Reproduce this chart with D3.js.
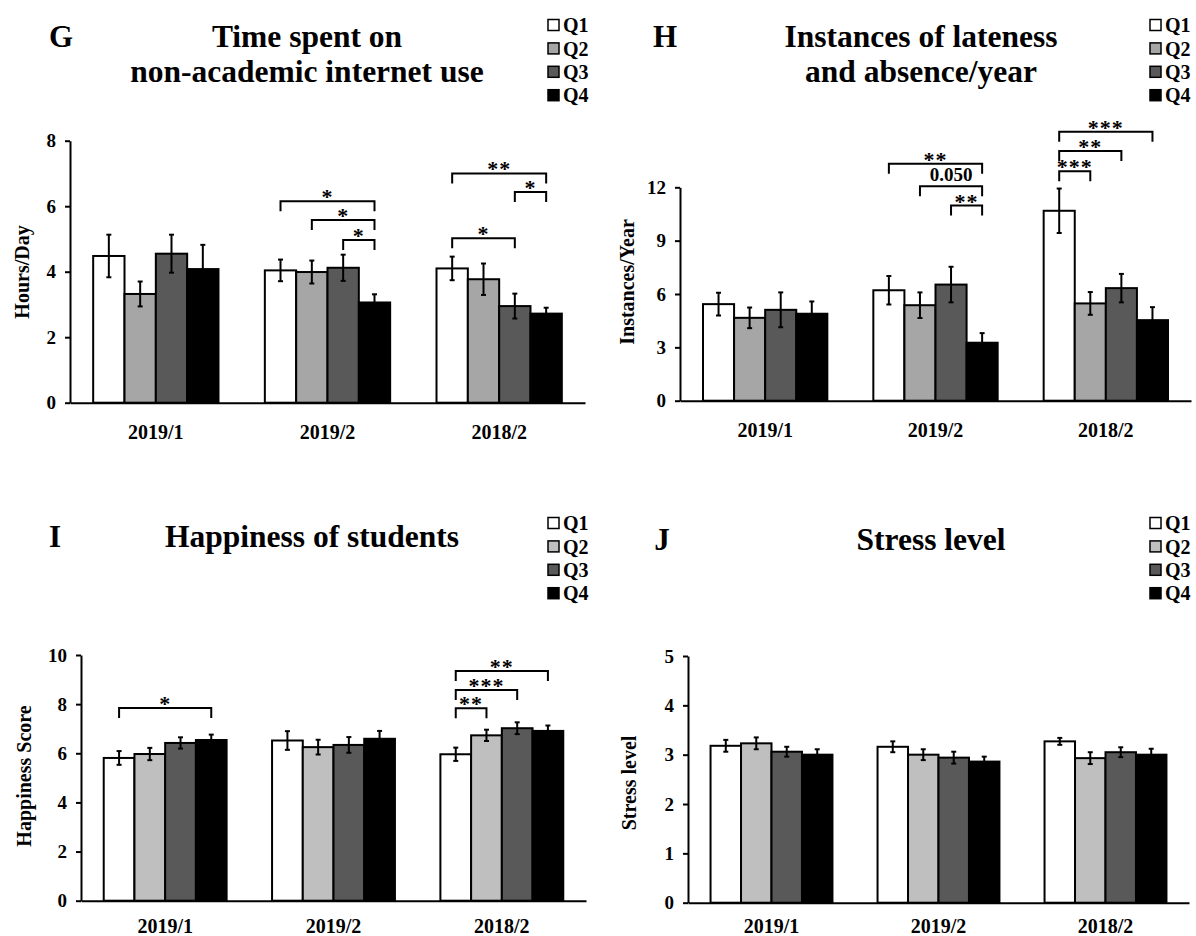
<!DOCTYPE html>
<html>
<head>
<meta charset="utf-8">
<script src="https://cdn.jsdelivr.net/npm/d3@7"></script>
<style>
  html, body { margin: 0; padding: 0; background: #fff; }
  svg { display: block; font-family: "Liberation Serif", "Times New Roman", serif; font-weight: bold; }
</style>
</head>
<body>
<script>
// ---- data -------------------------------------------------------------
const categories = ["2019/1", "2019/2", "2018/2"];
const quartiles = ["Q1", "Q2", "Q3", "Q4"];

// G: non-academic internet use (hours/day), mean and SE per cohort x quartile
const internetHours = [[4.48, 3.32, 4.55, 4.08], [4.04, 3.99, 4.12, 3.06], [4.10, 3.77, 2.95, 2.72]];
const internetErr   = [[0.65, 0.38, 0.58, 0.74], [0.33, 0.35, 0.40, 0.25], [0.36, 0.48, 0.38, 0.18]];
const internetSig = [
  { cat: "2019/2", from: "Q1", to: "Q4", y: 6.15, label: "*" },
  { cat: "2019/2", from: "Q2", to: "Q4", y: 5.58, label: "*" },
  { cat: "2019/2", from: "Q3", to: "Q4", y: 4.97, label: "*" },
  { cat: "2018/2", from: "Q1", to: "Q4", y: 7.00, label: "**" },
  { cat: "2018/2", from: "Q3", to: "Q4", y: 6.43, label: "*" },
  { cat: "2018/2", from: "Q1", to: "Q3", y: 5.02, label: "*" }
];

// H: lateness and absence per year
const lateness    = [[5.43, 4.66, 5.11, 4.89], [6.21, 5.37, 6.53, 3.26], [10.68, 5.47, 6.33, 4.53]];
const latenessErr = [[0.64, 0.58, 0.98, 0.69], [0.80, 0.72, 1.00, 0.54], [1.25, 0.64, 0.80, 0.73]];
const latenessSig = [
  { cat: "2019/2", from: "Q1", to: "Q4", y: 13.32, label: "**" },
  { cat: "2019/2", from: "Q2", to: "Q4", y: 12.06, label: "0.050" },
  { cat: "2019/2", from: "Q3", to: "Q4", y: 10.97, label: "**" },
  { cat: "2018/2", from: "Q1", to: "Q4", y: 15.13, label: "***" },
  { cat: "2018/2", from: "Q1", to: "Q3", y: 14.04, label: "**" },
  { cat: "2018/2", from: "Q1", to: "Q2", y: 12.90, label: "***" }
];

// I: happiness score
const happiness    = [[5.81, 5.97, 6.42, 6.54], [6.52, 6.25, 6.34, 6.59], [5.96, 6.73, 7.02, 6.91]];
const happinessErr = [[0.28, 0.25, 0.23, 0.22], [0.38, 0.30, 0.32, 0.32], [0.27, 0.23, 0.24, 0.22]];
const happinessSig = [
  { cat: "2019/1", from: "Q1", to: "Q4", y: 7.84, label: "*" },
  { cat: "2018/2", from: "Q1", to: "Q4", y: 9.35, label: "**" },
  { cat: "2018/2", from: "Q1", to: "Q3", y: 8.58, label: "***" },
  { cat: "2018/2", from: "Q1", to: "Q2", y: 7.83, label: "**" }
];

// J: stress level
const stress    = [[3.18, 3.23, 3.06, 3.00], [3.16, 3.00, 2.94, 2.86], [3.27, 2.93, 3.05, 3.00]];
const stressErr = [[0.12, 0.12, 0.10, 0.11], [0.11, 0.11, 0.12, 0.10], [0.07, 0.12, 0.10, 0.12]];
const stressSig = [];

// ---- panel setup ------------------------------------------------------
const panels = [
  {
    letter: "G", title: ["Time spent on", "non-academic internet use"], yLabel: "Hours/Day",
    values: internetHours, errors: internetErr, sig: internetSig,
    domain: [0, 8], ticks: [0, 2, 4, 6, 8], q2Fill: "#a6a6a6",
    box: { ax: 70, axEnd: 585, y0: 402.7, yTop: 140.7, titleX: 307, titleY: 46.5,
           letterX: 61, legendX: 548, legendY: 25, yLabelX: 22, yLabelY: 272, xPad: 22 }
  },
  {
    letter: "H", title: ["Instances of lateness", "and absence/year"], yLabel: "Instances/Year",
    values: lateness, errors: latenessErr, sig: latenessSig,
    domain: [0, 12], ticks: [0, 3, 6, 9, 12], q2Fill: "#a6a6a6",
    box: { ax: 680, axEnd: 1191, y0: 400.7, yTop: 187.3, titleX: 921, titleY: 46.5,
           letterX: 665, legendX: 1150, legendY: 25, yLabelX: 627, yLabelY: 282, xPad: 22 }
  },
  {
    letter: "I", title: ["Happiness of students"], yLabel: "Happiness Score",
    values: happiness, errors: happinessErr, sig: happinessSig,
    domain: [0, 10], ticks: [0, 2, 4, 6, 8, 10], q2Fill: "#bfbfbf",
    box: { ax: 81, axEnd: 586, y0: 900.7, yTop: 655, titleX: 312, titleY: 547,
           letterX: 55, legendX: 548, legendY: 523, yLabelX: 24, yLabelY: 776, xPad: 18 }
  },
  {
    letter: "J", title: ["Stress level"], yLabel: "Stress level",
    values: stress, errors: stressErr, sig: stressSig,
    domain: [0, 5], ticks: [0, 1, 2, 3, 4, 5], q2Fill: "#bfbfbf",
    box: { ax: 688, axEnd: 1189, y0: 902.7, yTop: 656, titleX: 931, titleY: 550,
           letterX: 662, legendX: 1150, legendY: 523, yLabelX: 629, yLabelY: 783, xPad: 16 }
  }
];

const W = 1196, H = 936;
const GROUP_FRACTION = 0.73;
const SERIF = '"Liberation Serif", "Times New Roman", serif';

const svg = d3.select("body").append("svg")
  .attr("width", W).attr("height", H)
  .attr("viewBox", `0 0 ${W} ${H}`);

svg.append("rect").attr("width", W).attr("height", H).attr("fill", "#fff");

function fillFor(panel, q) {
  return { Q1: "#ffffff", Q2: panel.q2Fill, Q3: "#595959", Q4: "#000000" }[q];
}

function drawPanel(p) {
  const b = p.box;
  const g = svg.append("g");

  const x = d3.scaleBand().domain(categories).range([b.ax, b.axEnd]);
  const groupW = x.bandwidth() * GROUP_FRACTION;
  const groupOff = (x.bandwidth() - groupW) / 2;
  const xq = d3.scaleBand().domain(quartiles).range([0, groupW]);
  const y = d3.scaleLinear().domain(p.domain).range([b.y0, b.yTop]);

  const barX = (c, q) => x(c) + groupOff + xq(q);
  const barMid = (c, q) => barX(c, q) + xq.bandwidth() / 2;

  const rows = categories.flatMap((c, ci) =>
    quartiles.map((q, qi) => ({ c, q, v: p.values[ci][qi], e: p.errors[ci][qi] })));

  // bars
  g.append("g").selectAll("rect").data(rows).join("rect")
    .attr("x", d => barX(d.c, d.q))
    .attr("y", d => y(d.v))
    .attr("width", xq.bandwidth())
    .attr("height", d => y(0) - y(d.v))
    .attr("fill", d => fillFor(p, d.q))
    .attr("stroke", "#000")
    .attr("stroke-width", 2);

  // error bars (mean ± SE)
  const eb = g.append("g").attr("stroke", "#000").attr("stroke-width", 2);
  eb.selectAll("line.whisker").data(rows).join("line").attr("class", "whisker")
    .attr("x1", d => barMid(d.c, d.q)).attr("x2", d => barMid(d.c, d.q))
    .attr("y1", d => y(d.v - d.e)).attr("y2", d => y(d.v + d.e));
  eb.selectAll("line.capTop").data(rows).join("line").attr("class", "capTop")
    .attr("x1", d => barMid(d.c, d.q) - 2.5).attr("x2", d => barMid(d.c, d.q) + 2.5)
    .attr("y1", d => y(d.v + d.e)).attr("y2", d => y(d.v + d.e));
  eb.selectAll("line.capBot").data(rows).join("line").attr("class", "capBot")
    .attr("x1", d => barMid(d.c, d.q) - 2.5).attr("x2", d => barMid(d.c, d.q) + 2.5)
    .attr("y1", d => y(d.v - d.e)).attr("y2", d => y(d.v - d.e));

  // y axis
  const yAxis = g.append("g")
    .attr("transform", `translate(${b.ax},0)`)
    .call(d3.axisLeft(y).tickValues(p.ticks).tickSize(5).tickSizeOuter(0).tickPadding(9)
      .tickFormat(d3.format("d")));
  yAxis.select(".domain").attr("stroke-width", 2);
  yAxis.selectAll(".tick line").attr("stroke-width", 2);
  yAxis.selectAll(".tick text")
    .attr("font-family", SERIF)
    .attr("font-weight", "bold").attr("font-size", 19).attr("fill", "#000");

  // x axis
  const xAxis = g.append("g")
    .attr("transform", `translate(0,${b.y0})`)
    .call(d3.axisBottom(x).tickSize(0).tickSizeOuter(0).tickPadding(b.xPad));
  xAxis.select(".domain").attr("stroke-width", 2);
  xAxis.selectAll(".tick text")
    .attr("font-family", SERIF)
    .attr("font-weight", "bold").attr("font-size", 20).attr("fill", "#000");

  // y-axis title
  g.append("text")
    .attr("transform", `translate(${b.yLabelX},${b.yLabelY}) rotate(-90)`)
    .attr("text-anchor", "middle").attr("dy", "0.35em")
    .attr("font-size", 20).text(p.yLabel);

  // significance brackets
  const legLen = 10;
  const isNum = d => /\d/.test(d.label);
  const sg = g.append("g");
  sg.selectAll("path").data(p.sig).join("path")
    .attr("fill", "none").attr("stroke", "#000").attr("stroke-width", 2)
    .attr("d", d => {
      const x1 = barMid(d.cat, d.from), x2 = barMid(d.cat, d.to), yy = y(d.y);
      return `M${x1},${yy + legLen}V${yy}H${x2}V${yy + legLen}`;
    });
  sg.selectAll("text").data(p.sig).join("text")
    .attr("x", d => (barMid(d.cat, d.from) + barMid(d.cat, d.to)) / 2)
    .attr("y", d => isNum(d) ? y(d.y) - 5 : y(d.y) + 3)
    .attr("text-anchor", "middle")
    .attr("font-size", d => isNum(d) ? 19 : 22)
    .attr("letter-spacing", d => isNum(d) ? 0 : 1)
    .text(d => d.label);

  // panel letter and title
  g.append("text").attr("x", b.letterX).attr("y", b.titleY)
    .attr("text-anchor", "middle").attr("font-size", 31).text(p.letter);
  g.append("g").selectAll("text").data(p.title).join("text")
    .attr("x", b.titleX).attr("y", (d, i) => b.titleY + i * 35)
    .attr("text-anchor", "middle").attr("font-size", 31.5).text(d => d);

  // legend
  const lg = g.append("g");
  const rowH = 23.4;
  lg.selectAll("rect").data(quartiles).join("rect")
    .attr("x", b.legendX).attr("y", (d, i) => b.legendY + i * rowH - 5.5)
    .attr("width", 11).attr("height", 11)
    .attr("fill", d => fillFor(p, d)).attr("stroke", "#000").attr("stroke-width", 1.5);
  lg.selectAll("text").data(quartiles).join("text")
    .attr("x", b.legendX + 15).attr("y", (d, i) => b.legendY + i * rowH)
    .attr("dy", "0.36em").attr("font-size", 20).text(d => d);
}

panels.forEach(drawPanel);
</script>
</body>
</html>
